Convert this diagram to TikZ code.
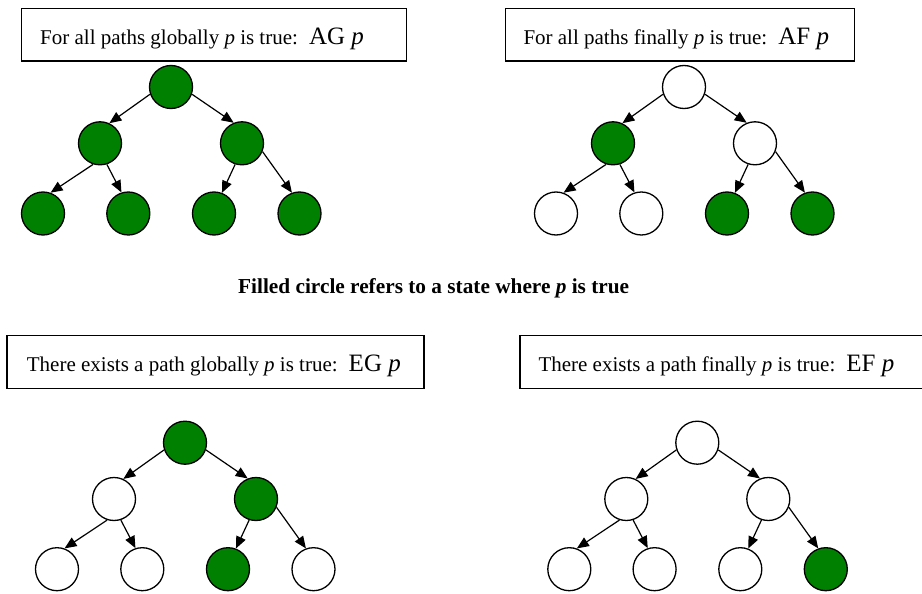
\documentclass[tikz,border=0pt]{standalone}
\usepackage{fontspec}
\setmainfont{Liberation Serif}
\usetikzlibrary{arrows.meta}
\definecolor{stgreen}{RGB}{0,128,0}
\tikzset{
  st/.style={circle,draw=black,line width=1.3pt,minimum size=43pt,inner sep=0pt},
  G/.style={fill=stgreen},
  W/.style={fill=white},
  edge/.style={line width=1.2pt,-{Triangle[length=12pt,width=10pt]}},
  box/.style={draw=black,line width=1.4pt,minimum height=52.7pt,inner sep=0pt},
  lbl/.style={anchor=base west,inner sep=0pt,font=\fontsize{21}{24}\selectfont},
}
\newcommand\ctltree[9]{%
  \begin{scope}[shift={#2}]
    \node[st,#3] (#1r) at (0,0) {};
    \node[st,#4] (#1a) at (-71,56.3) {};
    \node[st,#5] (#1b) at (71,56.3) {};
    \node[st,#6] (#1aa) at (-128,126.5) {};
    \node[st,#7] (#1ab) at (-42.7,126.5) {};
    \node[st,#8] (#1ba) at (43,126.5) {};
    \node[st,#9] (#1bb) at (128.5,126.5) {};
    \draw[edge] (#1r.199) -- (#1a.65);
    \draw[edge] (#1r.341) -- (#1b.112);
    \draw[edge] (#1a.252) -- (#1aa.70);
    \draw[edge] (#1a.288) -- (#1ab.108);
    \draw[edge] (#1b.252) -- (#1ba.69);
    \draw[edge] (#1b.338) -- (#1bb.110);
  \end{scope}}
\newcommand\bigop[1]{{\fontsize{25}{28}\selectfont\hspace{4pt}#1 \textit{p}}}
\begin{document}
\begin{tikzpicture}[x=1pt,y=-1pt]
\useasboundingbox (0,0) rectangle (922,594);
\clip (0,0) rectangle (922,594);
% boxes
\node[box,minimum width=385pt] (b1) at (214.2,34.7) {};
\node[lbl] (t1) at (40,45) {For all paths globally \textit{p} is true: \bigop{AG}};
\node[box,minimum width=348.6pt] (b2) at (680,34.7) {};
\node[lbl] (t2) at (523.3,45) {For all paths finally \textit{p} is true: \bigop{AF}};
\node[box,minimum width=417pt] (b3) at (215.5,362) {};
\node[lbl] (t3) at (26.7,371.7) {There exists a path globally \textit{p} is true: \bigop{EG}};
\node[box,minimum width=440pt] (b4) at (740,362) {};
\node[lbl] (t4) at (538.3,371.7) {There exists a path finally \textit{p} is true: \bigop{EF}};
% caption
\node[lbl,font=\fontsize{21.3}{24}\selectfont\bfseries] (cap) at (238,293) {Filled circle refers to a state where \textit{p} is true};
% trees
\ctltree{A}{(171,87)}{G}{G}{G}{G}{G}{G}{G}
\ctltree{B}{(684,87)}{W}{G}{W}{W}{W}{G}{G}
\ctltree{C}{(185,442.7)}{G}{W}{G}{W}{W}{G}{W}
\ctltree{D}{(697.3,442.7)}{W}{W}{W}{W}{W}{W}{G}
\end{tikzpicture}
\end{document}
